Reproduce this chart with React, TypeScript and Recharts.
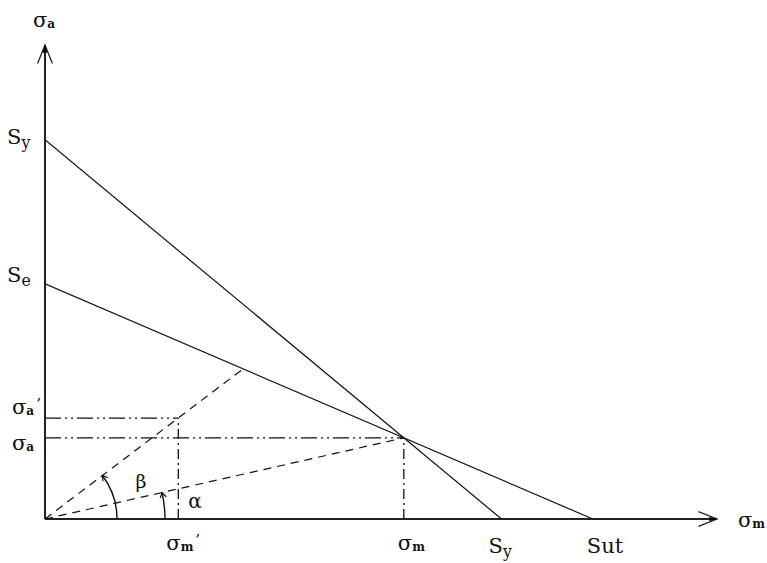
import { ComposedChart, ReferenceLine, Scatter, XAxis, YAxis } from "recharts";

// stress values (arbitrary MPa-like units)
const xTicks = [146, 393, 500, 600];
const xTickLabels = ["σ_m’", "σ_m", "S_y", "Sut"];
const yTicks = [500, 310, 133, 107];
const yTickLabels = ["S_y", "S_e", "σ_a’", "σ_a"];

const goodmanLine = [{ x: 0, y: 310 }, { x: 600, y: 0 }];
const yieldLine = [{ x: 0, y: 500 }, { x: 500, y: 0 }];
const loadLineA = [{ x: 0, y: 0 }, { x: 393, y: 107 }];
const loadLineB = [{ x: 0, y: 0 }, { x: 217, y: 198 }];
const sigmaAGuide = [{ x: 0, y: 107 }, { x: 393, y: 107 }];
const sigmaAPrimeGuide = [{ x: 0, y: 133 }, { x: 146, y: 133 }];
const sigmaMGuide = [{ x: 393, y: 0 }, { x: 393, y: 107 }];
const sigmaMPrimeGuide = [{ x: 146, y: 0 }, { x: 146, y: 133 }];

const xAxisLine = [{ x: 0, y: 0 }, { x: 736, y: 0 }];
const yAxisLine = [{ x: 0, y: 0 }, { x: 0, y: 625 }];

const FONT = '"DejaVu Serif", "Liberation Serif", serif';
const INK = "#111";

function StressLabel({ x, y, text, size = 21 }: any) {
  const parts = text.split("_");
  if (parts.length === 1) {
    return (
      <text x={x} y={y} fontFamily={FONT} fontSize={size} fill={INK}>
        {text}
      </text>
    );
  }
  const sub = parts[1][0];
  const suffix = parts[1].slice(1);
  const isSigma = parts[0] === "σ";
  const subSize = isSigma ? 12 : size * 0.75;
  const drop = isSigma ? 1 : 4;
  return (
    <text x={x} y={y} fontFamily={FONT} fontSize={size} fill={INK}>
      <tspan>{parts[0]}</tspan>
      <tspan fontSize={subSize} dy={drop} fontWeight={isSigma ? "bold" : "normal"}>
        {sub}
      </tspan>
      {suffix ? (
        <tspan fontSize={15} dy={-drop - 5} dx={2}>
          {suffix}
        </tspan>
      ) : null}
    </text>
  );
}

// label placement relative to the tick anchor (left edge, baseline)
const xNudge: Record<string, [number, number]> = {
  "σ_m’": [-12, 23],
  "σ_m": [-6, 23],
  "S_y": [-13, 26],
  "Sut": [-6, 26],
};
const yNudge: Record<string, [number, number]> = {
  "S_y": [7, 4],
  "S_e": [7, -2],
  "σ_a’": [12, -4],
  "σ_a": [12, 12],
};

function XTick(props: any) {
  const label = xTickLabels[xTicks.indexOf(props.payload.value)];
  const [dx, dy] = xNudge[label] || [0, 20];
  return <StressLabel x={props.x + dx} y={props.y + dy} text={label} />;
}

function YTick(props: any) {
  const label = yTickLabels[yTicks.indexOf(props.payload.value)];
  const [lx, dy] = yNudge[label] || [0, 0];
  return <StressLabel x={lx} y={props.y + dy} text={label} />;
}

function arrowShape(label: string, lx: number, ly: number) {
  return (p: any) => {
    const { x1, y1, x2, y2 } = p;
    const ang = Math.atan2(y2 - y1, x2 - x1);
    const len = 20;
    const spread = 0.38;
    const b1x = x2 - len * Math.cos(ang - spread);
    const b1y = y2 - len * Math.sin(ang - spread);
    const b2x = x2 - len * Math.cos(ang + spread);
    const b2y = y2 - len * Math.sin(ang + spread);
    const t = 8;
    const f1x = x2 - t * Math.cos(ang - 0.3);
    const f1y = y2 - t * Math.sin(ang - 0.3);
    const f2x = x2 - t * Math.cos(ang + 0.3);
    const f2y = y2 - t * Math.sin(ang + 0.3);
    return (
      <g>
        <line x1={x1} y1={y1} x2={x2} y2={y2} stroke="#222" strokeWidth={2} />
        <polyline points={`${b1x},${b1y} ${x2},${y2} ${b2x},${b2y}`} fill="none" stroke="#222" strokeWidth={1.3} />
        <polygon points={`${x2},${y2} ${f1x},${f1y} ${f2x},${f2y}`} fill="#000" />
        <StressLabel x={x2 + lx} y={y2 + ly} text={label} />
      </g>
    );
  };
}

function loadShape(radius: number, letter: string, lx: number, ly: number, size: number) {
  return (p: any) => {
    const { x1, y1, x2, y2 } = p;
    const ang = Math.atan2(y1 - y2, x2 - x1);
    const ex = x1 + radius * Math.cos(ang);
    const ey = y1 - radius * Math.sin(ang);
    // small barb at the upper end of the angle arc
    const tx = -Math.sin(ang);
    const ty = -Math.cos(ang);
    return (
      <g>
        <path d={`M ${x1 + radius} ${y1} A ${radius} ${radius} 0 0 0 ${ex} ${ey}`} fill="none" stroke={INK} strokeWidth={1.4} />
        <polyline
          points={`${ex - tx * 5 + Math.cos(ang) * 3},${ey - ty * 5 - Math.sin(ang) * 3} ${ex},${ey} ${ex - tx * 5 - Math.cos(ang) * 3},${ey - ty * 5 + Math.sin(ang) * 3}`}
          fill="none"
          stroke={INK}
          strokeWidth={1.2}
        />
        <text x={x1 + lx} y={y1 + ly} textAnchor="middle" fontFamily={FONT} fontSize={size} fill={INK}>
          {letter}
        </text>
      </g>
    );
  };
}

const noDot = () => <g />;

const seriesLine = (dash?: string, width = 1.2) => ({
  stroke: INK,
  strokeWidth: width,
  strokeDasharray: dash,
});

export default function App() {
  return (
    <div style={{ position: "absolute", left: 0, top: 0, width: 767, height: 563, background: "#fff" }}>
      <ComposedChart width={767} height={563} margin={{ top: 45, right: 50, bottom: 14, left: 0 }}>
        <XAxis
          type="number"
          dataKey="x"
          domain={[0, 736]}
          ticks={xTicks}
          axisLine={false}
          tickLine={false}
          height={30}
          tick={<XTick />}
          interval={0}
          allowDataOverflow
        />
        <YAxis
          type="number"
          dataKey="y"
          domain={[0, 625]}
          ticks={yTicks}
          axisLine={false}
          tickLine={false}
          width={45}
          tick={<YTick />}
          interval={0}
          allowDataOverflow
        />
        <Scatter data={sigmaAGuide} line={seriesLine("16 4 2 4 2 4", 1.3)} shape={noDot} isAnimationActive={false} />
        <Scatter data={sigmaAPrimeGuide} line={seriesLine("16 4 2 4 2 4", 1.3)} shape={noDot} isAnimationActive={false} />
        <Scatter data={sigmaMGuide} line={seriesLine("10 4 2 4", 1.3)} shape={noDot} isAnimationActive={false} />
        <Scatter data={sigmaMPrimeGuide} line={seriesLine("10 4 2 4", 1.3)} shape={noDot} isAnimationActive={false} />
        <Scatter data={loadLineA} line={seriesLine("8 6")} shape={noDot} isAnimationActive={false} />
        <Scatter data={loadLineB} line={seriesLine("8 6")} shape={noDot} isAnimationActive={false} />
        <Scatter data={goodmanLine} line={seriesLine()} shape={noDot} isAnimationActive={false} />
        <Scatter data={yieldLine} line={seriesLine()} shape={noDot} isAnimationActive={false} />
        <ReferenceLine segment={loadLineA} ifOverflow="visible" shape={loadShape(120, "α", 150, -11, 20)} />
        <ReferenceLine segment={loadLineB} ifOverflow="visible" shape={loadShape(72, "β", 96, -31, 19)} />
        <ReferenceLine segment={xAxisLine} ifOverflow="visible" shape={arrowShape("σ_m", 21, 8)} />
        <ReferenceLine segment={yAxisLine} ifOverflow="visible" shape={arrowShape("σ_a", -12, -18)} />
      </ComposedChart>
    </div>
  );
}
